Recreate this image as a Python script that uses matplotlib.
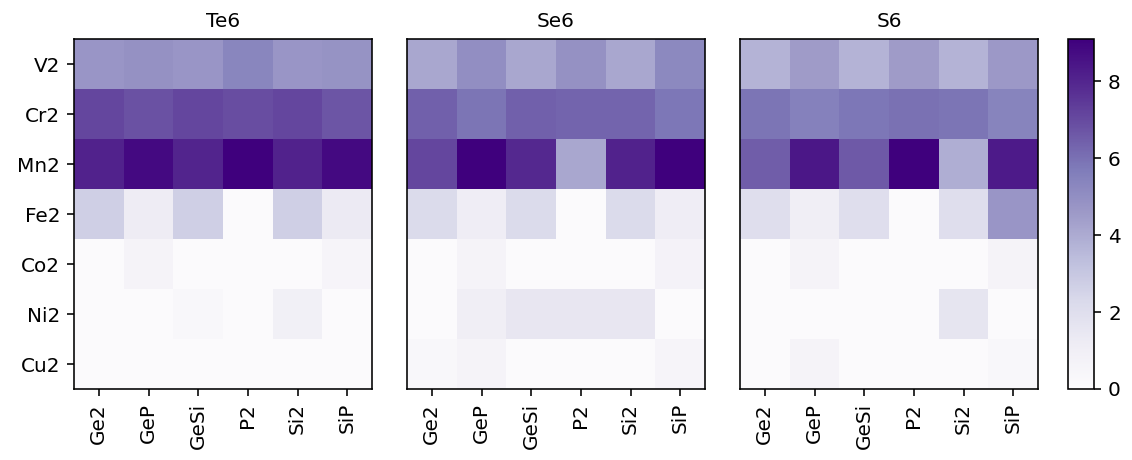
import numpy as np
import matplotlib
matplotlib.use("Agg")
import matplotlib.pyplot as plt
from matplotlib.colors import Normalize

# metals (rows) and substrates (columns)
metals = ["V2", "Cr2", "Mn2", "Fe2", "Co2", "Ni2", "Cu2"]
subs = ["Ge2", "GeP", "GeSi", "P2", "Si2", "SiP"]
titles = ["Te6", "Se6", "S6"]

te6 = [
    [4.7, 4.9, 4.7, 5.3, 4.7, 4.8],
    [7.1, 6.8, 7.1, 6.9, 7.1, 6.7],
    [8.1, 8.8, 8.0, 9.1, 8.1, 8.8],
    [2.7, 1.2, 2.7, 0.05, 2.7, 1.3],
    [0.1, 0.6, 0.05, 0.1, 0.1, 0.5],
    [0.05, 0.05, 0.3, 0.05, 0.9, 0.05],
    [0.05, 0.05, 0.05, 0.05, 0.05, 0.05],
]
se6 = [
    [4.1, 5.0, 4.1, 4.9, 4.1, 5.2],
    [6.4, 5.9, 6.4, 6.3, 6.3, 5.8],
    [7.1, 9.1, 7.9, 4.1, 8.1, 9.1],
    [2.2, 1.1, 2.2, 0.05, 2.2, 1.1],
    [0.05, 0.6, 0.05, 0.05, 0.05, 0.7],
    [0.05, 1.0, 1.5, 1.5, 1.5, 0.05],
    [0.3, 0.6, 0.05, 0.05, 0.05, 0.5],
]
s6 = [
    [3.7, 4.5, 3.7, 4.5, 3.7, 4.6],
    [5.9, 5.5, 5.8, 6.0, 5.9, 5.4],
    [6.5, 8.4, 6.6, 9.1, 3.9, 8.3],
    [2.0, 1.0, 2.0, 0.05, 2.0, 4.7],
    [0.05, 0.6, 0.05, 0.05, 0.05, 0.6],
    [0.1, 0.05, 0.1, 0.1, 1.6, 0.05],
    [0.05, 0.6, 0.05, 0.05, 0.05, 0.3],
]
data = [te6, se6, s6]

plt.rcParams["font.size"] = 10
fig = plt.figure(figsize=(1132 / 144, 460 / 144), dpi=144)

W, H = 1132.0, 460.0
lefts = [74, 407, 740]
top, bottom = 39, 389
norm = Normalize(vmin=0, vmax=max(np.max(d) for d in data))

im = None
for i in range(3):
    ax = fig.add_axes([lefts[i] / W, (H - bottom) / H, 298 / W, (bottom - top) / H])
    im = ax.imshow(np.array(data[i]), cmap="Purples", norm=norm, aspect="auto")
    ax.set_title(titles[i], fontsize=10)
    ax.set_xticks(range(len(subs)))
    ax.set_xticklabels(subs, rotation=90)
    ax.set_yticks(range(len(metals)))
    if i == 0:
        ax.set_yticklabels(metals)
    else:
        ax.set_yticks([])

cax = fig.add_axes([1068 / W, (H - bottom) / H, 26 / W, (bottom - top) / H])
cb = fig.colorbar(im, cax=cax)
cb.set_ticks([0, 2, 4, 6, 8])

fig.savefig("out.png", dpi=144)
